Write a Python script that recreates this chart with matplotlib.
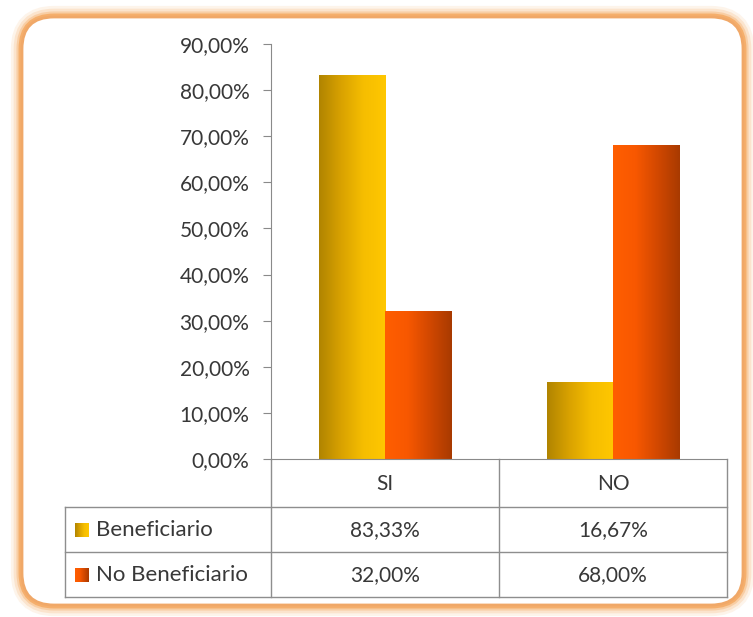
import numpy as np
import matplotlib
matplotlib.use('Agg')
import matplotlib.pyplot as plt
from matplotlib.colors import LinearSegmentedColormap
from matplotlib.patches import FancyBboxPatch

plt.rcParams['font.family'] = ['Lato', 'DejaVu Sans']

# datos
categorias = ['SI', 'NO']
series = ['Beneficiario', 'No Beneficiario']
beneficiario = [83.33, 16.67]
no_beneficiario = [32.00, 68.00]
yticks = [0, 10, 20, 30, 40, 50, 60, 70, 80, 90]

W, H = 753, 617
fs = 15
tc = '#383838'
fig = plt.figure(figsize=(W / 100, H / 100), dpi=100)

# fondo / marco (coordenadas en píxeles)
bg = fig.add_axes([0, 0, 1, 1])
bg.set_xlim(0, W); bg.set_ylim(H, 0); bg.axis('off')
for lw, a in [(16, 0.12), (12, 0.2), (8, 0.35), (5, 0.75)]:
    bg.add_patch(FancyBboxPatch((22, 17), 721, 588, boxstyle='round,pad=0,rounding_size=32',
                                fc='none', ec='#F5A55A', lw=lw, alpha=a))
bg.add_patch(FancyBboxPatch((22, 17), 721, 588, boxstyle='round,pad=0,rounding_size=32',
                            fc='white', ec='#F0A868', lw=2))

cmaps = [LinearSegmentedColormap.from_list('b', ['#B08400', '#D9A200', '#F6BE00', '#FFC700']),
         LinearSegmentedColormap.from_list('n', ['#FF5E00', '#F85800', '#D24800', '#A83A00'])]
grad = np.linspace(0, 1, 256).reshape(1, -1)

# eje principal
x0, x1, ytop, ybot = 271, 727, 44, 459
ax = fig.add_axes([x0 / W, (H - ybot) / H, (x1 - x0) / W, (ybot - ytop) / H])
ax.patch.set_alpha(0)
x = np.arange(len(categorias))
bw = 0.29
for i, vals in enumerate([beneficiario, no_beneficiario]):
    pos = x + (i - 0.5) * bw
    bars = ax.bar(pos, vals, bw, color='none', edgecolor='none')
    for b in bars:
        im = ax.imshow(grad, cmap=cmaps[i], aspect='auto', zorder=2,
                       extent=(b.get_x(), b.get_x() + b.get_width(), 0, b.get_height()))
        im.set_clip_path(b)
ax.set_xlim(-0.5, 1.5)
ax.set_ylim(0, 90)
ax.set_yticks(yticks)
ax.set_yticklabels([f'{v},00%' for v in yticks], fontsize=fs, color=tc)
ax.set_xticks([])
for s in ['top', 'right']:
    ax.spines[s].set_visible(False)
ax.spines['left'].set_color('#8A8A8A')
ax.spines['bottom'].set_color('#8A8A8A')
ax.tick_params(axis='y', length=5.5, color='#8A8A8A', pad=10)

# tabla de datos
lc = '#8E8E8E'
rows = [459, 507, 552, 597]
xmid = 499
for yv in rows[1:]:
    bg.plot([65, x1], [yv, yv], color=lc, lw=1)
for xv in [x0, xmid, x1]:
    bg.plot([xv, xv], [459, 597], color=lc, lw=1)
bg.plot([65, 65], [507, 597], color=lc, lw=1)
for j, c in enumerate(categorias):
    cx = (x0 + xmid) / 2 if j == 0 else (xmid + x1) / 2
    bg.text(cx, 484, c, ha='center', va='center', fontsize=fs, color=tc)
    bg.text(cx, 530, f'{beneficiario[j]:.2f}%'.replace('.', ','), ha='center', va='center', fontsize=fs, color=tc)
    bg.text(cx, 575, f'{no_beneficiario[j]:.2f}%'.replace('.', ','), ha='center', va='center', fontsize=fs, color=tc)
for i, (nm, yc) in enumerate(zip(series, [530, 575])):
    bg.imshow(grad, cmap=cmaps[i], aspect='auto', extent=(75, 89, yc + 7, yc - 7), zorder=3)
    bg.text(96, yc, nm, ha='left', va='center', fontsize=16, color=tc)
bg.set_xlim(0, W); bg.set_ylim(H, 0)

fig.savefig('out.png', dpi=100)
